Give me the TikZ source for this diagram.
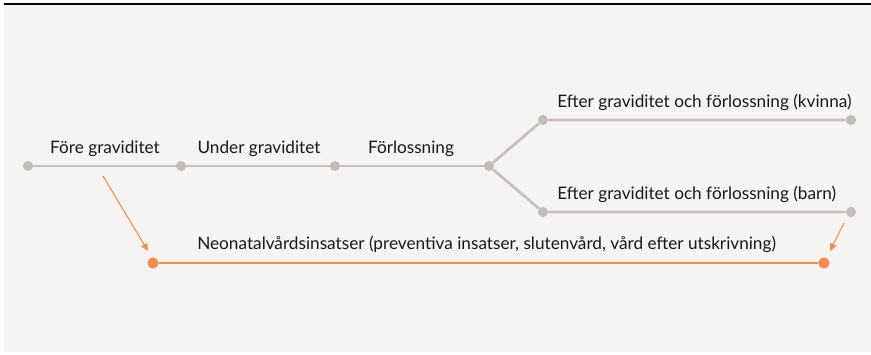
\documentclass[tikz,border=0pt]{standalone}
\usepackage{fontspec}
\setmainfont{Lato}
\usetikzlibrary{positioning, arrows.meta}

\definecolor{bgcol}{HTML}{F5F4F2}
\definecolor{linegray}{HTML}{C7C0BD}
\definecolor{dotgray}{HTML}{C4BCB9}
\definecolor{neoorange}{HTML}{F28C4C}

\begin{document}
\begin{tikzpicture}[
        x=0.75pt, y=-0.75pt,
        font=\fontsize{12.9}{15}\selectfont,
        dot/.style={circle, fill=dotgray, inner sep=0pt, minimum size=7.6pt},
        odot/.style={circle, fill=neoorange, inner sep=0pt, minimum size=8.5pt},
        track/.style={draw=linegray, line width=2.1pt},
        otrack/.style={draw=neoorange, line width=2.1pt},
        pointer/.style={draw=neoorange, line width=0.8pt, -{Triangle[length=5.5pt, width=5pt]}},
        lbl/.style={inner sep=0pt, text=black!90}
    ]
        \useasboundingbox (0,0) rectangle (871,354);
        \fill[bgcol] (4,4) rectangle (871,352);
        \draw[black, line width=1.1pt] (4,4) -- (871,4);

        % timeline
        \node (pre) [dot] at (28,166) {};
        \node (preg) [dot] at (181,166) {};
        \node (birth) [dot] at (335,166) {};
        \node (split) [dot] at (489,166) {};
        \node (womanA) [dot] at (543,120) {};
        \node (womanB) [dot] at (851,120) {};
        \node (childA) [dot] at (543,212) {};
        \node (childB) [dot] at (851,212) {};
        \node (neoA) [odot] at (153,263) {};
        \node (neoB) [odot] at (824,263) {};

        \draw[track] (pre) -- (preg) -- (birth) -- (split);
        \draw[track] (split) -- (womanA) -- (womanB);
        \draw[track] (split) -- (childA) -- (childB);
        \draw[otrack] (neoA) -- (neoB);

        % labels
        \node (lpre) [lbl] at (105,149) {Före graviditet};
        \node (lpreg) [lbl] at (259,149) {Under graviditet};
        \node (lbirth) [lbl] at (411,149) {Förlossning};
        \node (lwoman) [lbl, anchor=west] at (557,102) {Efter graviditet och förlossning (kvinna)};
        \node (lchild) [lbl, anchor=west] at (557,194) {Efter graviditet och förlossning (barn)};
        \node (lneo) [lbl, anchor=west] at (197,244) {Neonatalvårdsinsatser (preventiva insatser, slutenvård, vård efter utskrivning)};

        % arrows
        \coordinate (fromPre) at (103,176);
        \coordinate (fromChild) at (844,223);
        \draw[pointer] (fromPre) -- (148,251);
        \draw[pointer] (fromChild) -- (830,251);
    \end{tikzpicture}
\end{document}
